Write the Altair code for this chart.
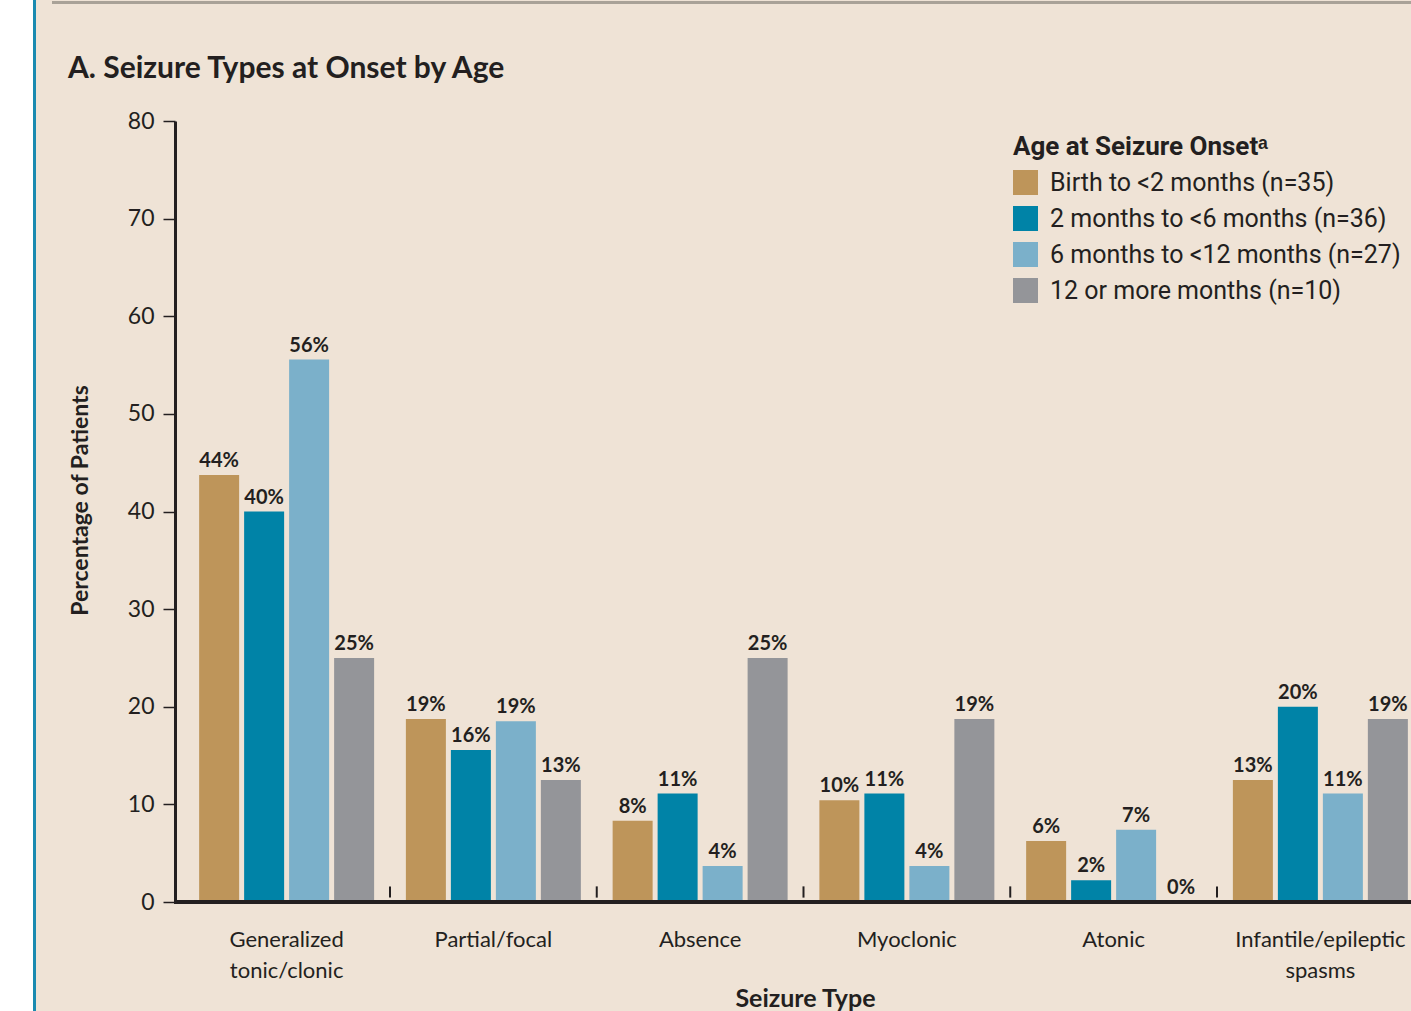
import altair as alt
import pandas as pd

categories = ["Generalized\ntonic/clonic", "Partial/focal", "Absence", "Myoclonic", "Atonic", "Infantile/epileptic\nspasms"]
groups = ["Birth to <2 months (n=35)", "2 months to <6 months (n=36)", "6 months to <12 months (n=27)", "12 or more months (n=10)"]
colors = ["#BE955A", "#0083A7", "#7BB0CA", "#949599"]

birth_to_2m = [43.75, 18.75, 8.33, 10.42, 6.25, 12.50]
m2_to_6m = [40.00, 15.56, 11.11, 11.11, 2.22, 20.00]
m6_to_12m = [55.56, 18.52, 3.70, 3.70, 7.41, 11.11]
m12_plus = [25.00, 12.50, 25.00, 18.75, 0.00, 18.75]

series = [birth_to_2m, m2_to_6m, m6_to_12m, m12_plus]
rows = []
for g, vals in zip(groups, series):
    for c, v in zip(categories, vals):
        rows.append({"category": c, "group": g, "value": v})
df = pd.DataFrame(rows)
sep_df = pd.DataFrame({"category": categories[1:]})

BG = "#EFE3D6"
DARK = "#231F20"
COND = "Lato, sans-serif"
REG = "Roboto, sans-serif"

W, H = 1236, 781

xscale = alt.Scale(domain=categories, range=[8.25, 1248.75], paddingInner=0, paddingOuter=0)
yscale = alt.Scale(domain=[0, 80], nice=False)

base = alt.Chart(df)

bars = base.mark_bar(size=40).encode(
    x=alt.X("category:N", scale=xscale, sort=categories,
            axis=alt.Axis(title="Seizure Type", domain=False, ticks=False,
                          labelAngle=0, labelFont=COND, labelFontSize=22, labelColor=DARK,
                          labelPadding=44, labelLineHeight=31, labelBaseline="alphabetic",
                          labelExpr="split(datum.label, '\\n')", labelLimit=0,
                          titleFont=COND, titleFontSize=25, titleFontWeight="bold", titleColor=DARK,
                          titleX=630, titleY=104, titleBaseline="alphabetic", titleAnchor="middle")),
    xOffset=alt.XOffset("group:N", sort=groups,
                        scale=alt.Scale(domain=groups, paddingInner=0.111, paddingOuter=0.353)),
    y=alt.Y("value:Q", scale=yscale,
            axis=alt.Axis(title="Percentage of Patients", values=list(range(0, 81, 10)),
                          grid=False, domainColor=DARK, domainWidth=3, tickColor=DARK, tickWidth=1.5,
                          tickSize=12, labelFont=COND, labelFontSize=23, labelColor=DARK, labelPadding=9,
                          titleFont=COND, titleFontSize=23, titleFontWeight="bold", titleColor=DARK,
                          titleX=-88, titleY=379, titleBaseline="alphabetic", titleAngle=270)),
    color=alt.Color("group:N", sort=groups, scale=alt.Scale(domain=groups, range=colors),
                    legend=alt.Legend(title="Age at Seizure Onsetᵃ", orient="none", legendX=838, legendY=13,
                                      titleFont=REG, titleFontSize=26, titleFontWeight="bold", titleColor=DARK,
                                      labelFont=REG, labelFontSize=25, labelColor=DARK, labelOffset=12,
                                      labelLimit=0, titleLimit=0,
                                      symbolType="square", symbolSize=625, symbolStrokeWidth=0,
                                      symbolOpacity=1, rowPadding=10, titlePadding=10)),
)

labels = base.mark_text(font=COND, fontSize=20, fontWeight="bold", color=DARK, baseline="alphabetic", dy=-8).encode(
    x=alt.X("category:N", scale=xscale, sort=categories),
    xOffset=alt.XOffset("group:N", sort=groups),
    y=alt.Y("value:Q", scale=yscale),
    text="lbl:N",
).transform_calculate(lbl="format(datum.value, '.0f') + '%'")

baseline = alt.Chart(pd.DataFrame({"v": [0]})).mark_rule(color=DARK, strokeWidth=4).encode(
    y=alt.Y("v:Q", scale=yscale), x=alt.value(-1), x2=alt.value(W)
)

seps = alt.Chart(sep_df).mark_rule(color=DARK, strokeWidth=2).encode(
    x=alt.X("category:N", scale=xscale, sort=categories, bandPosition=0),
    y=alt.datum(0.45), y2=alt.datum(1.6)
)

deco = pd.DataFrame({"k": [0]})
white = alt.Chart(deco).mark_rect(color="white").encode(
    x=alt.value(-176), x2=alt.value(-142), y=alt.value(-122), y2=alt.value(H + 110))
teal = alt.Chart(deco).mark_rect(color="#1A8AB0").encode(
    x=alt.value(-142), x2=alt.value(-139), y=alt.value(-122), y2=alt.value(H + 110))
topline = alt.Chart(deco).mark_rect(color="#A9A298").encode(
    x=alt.value(-123), x2=alt.value(W + 1), y=alt.value(-120), y2=alt.value(-117))
title = alt.Chart(deco).mark_text(font=COND, fontSize=30, fontWeight="bold", color=DARK,
                                  align="left", baseline="alphabetic", text="A. Seizure Types at Onset by Age").encode(
    x=alt.value(-107), y=alt.value(-43))

chart = alt.layer(white, teal, topline, title, bars, labels, seps, baseline).properties(
    width=W, height=H, background=BG,
    autosize=alt.AutoSizeParams(type="none"),
    padding={"left": 175, "top": 121, "right": 0, "bottom": 109},
).configure_view(stroke=None)

chart.save("out.html", embed_options={"renderer": "svg", "actions": False})
